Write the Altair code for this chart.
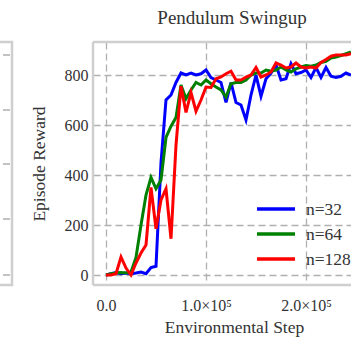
import altair as alt
import pandas as pd

steps = [i * 5000 for i in range(50)]
n32 = [0, 5, 10, 5, 8, 5, 8, 12, 5, 30,
       35, 450, 700, 720, 770, 808, 800, 808, 800, 805,
       820, 790, 780, 770, 690, 770, 690, 680, 620, 720,
       800, 715, 785, 808, 840, 780, 785, 845, 805, 810,
       820, 790, 830, 790, 830, 795, 790, 795, 808, 800]
n64 = [0, 5, 8, 10, 8, 12, 70, 200, 320, 390,
       345, 380, 550, 595, 630, 760, 705, 740, 770, 760,
       780, 765, 752, 740, 712, 765, 770, 770, 780, 800,
       808, 808, 820, 815, 820, 832, 820, 812, 825, 832,
       838, 835, 840, 850, 855, 868, 872, 878, 885, 892]
n128 = [0, 0, 5, 72, 28, 0, 48, 88, 120, 350,
        185, 300, 345, 145, 520, 755, 650, 730, 655, 700,
        752, 750, 785, 792, 805, 815, 780, 780, 792, 800,
        830, 792, 800, 812, 848, 840, 828, 832, 848, 832,
        828, 832, 828, 850, 862, 875, 880, 880, 880, 885]
series = ["n=32", "n=64", "n=128"]
colors = ["#0000ff", "#008000", "#ff0000"]
x_ticks = [0, 100000, 200000]
y_ticks = [0, 200, 400, 600, 800]

rows = []
for name, vals in zip(series, [n32, n64, n128]):
    for s, v in zip(steps, vals):
        rows.append({"step": s, "reward": v, "series": name})
df = pd.DataFrame(rows)

W, H = 258, 243
FONT = "Liberation Serif, Times New Roman, serif"
TXT = "#333333"
FRAME = "#cfcfcf"
color_scale = alt.Scale(domain=series, range=colors)

lines = alt.Chart(df).mark_line(strokeWidth=3, clip=True).encode(
    x=alt.X("step:Q",
            scale=alt.Scale(domain=[-13000, 245000], nice=False, zero=False),
            axis=alt.Axis(values=x_ticks,
                          labelExpr="datum.value == 0 ? '0.0' : format(datum.value / 100000, '.1f') + '×10⁵'",
                          title="Environmental Step", labelPadding=12,
                          titleX=141, titlePadding=5)),
    y=alt.Y("reward:Q",
            scale=alt.Scale(domain=[-40, 932], nice=False, zero=False),
            axis=alt.Axis(values=y_ticks, title="Episode Reward",
                          labelPadding=5, titlePadding=16)),
    color=alt.Color("series:N", sort=series, scale=color_scale, legend=None),
    detail="series:N",
)

# legend (built from the series list)
leg_df = pd.DataFrame({"series": series, "row": list(range(len(series)))})
leg_base = alt.Chart(leg_df).transform_calculate(py="167 + 25 * datum.row")
leg_lines = leg_base.mark_rule(strokeWidth=3.5).encode(
    x=alt.value(164), x2=alt.value(202),
    y=alt.Y("py:Q", scale=None),
    color=alt.Color("series:N", sort=series, scale=color_scale, legend=None),
)
leg_text = leg_base.mark_text(align="left", baseline="middle", font=FONT,
                              fontSize=17.5, color=TXT, dy=1).encode(
    x=alt.value(213), y=alt.Y("py:Q", scale=None), text="series:N")

one = pd.DataFrame({"a": [0]})
frame = alt.Chart(one).mark_rule(color=FRAME, strokeWidth=2.5)
f_left = frame.encode(x=alt.value(0), y=alt.value(0), y2=alt.value(H))
f_top = frame.encode(x=alt.value(0), x2=alt.value(W + 5), y=alt.value(0))
f_bot = frame.encode(x=alt.value(0), x2=alt.value(W + 5), y=alt.value(H))

# neighbouring panel fragment on the left
left_rect = alt.Chart(one).mark_rect(fillOpacity=0, stroke=FRAME, strokeWidth=2.5).encode(
    x=alt.value(-200), x2=alt.value(-81), y=alt.value(0), y2=alt.value(H))
left_grid = alt.Chart(pd.DataFrame({"gy": [13, 68, 122, 177, 233]})).mark_rule(
    color="#b0b0b0", strokeWidth=1.3, strokeDash=[7, 4]).encode(
    x=alt.value(-200), x2=alt.value(-83), y=alt.Y("gy:Q", scale=None))

chart = alt.layer(left_grid, left_rect, lines, leg_lines, leg_text,
                  f_left, f_top, f_bot).properties(
    width=W, height=H,
    padding={"left": 93, "top": 42, "right": 0, "bottom": 57},
    autosize=alt.AutoSizeParams(type="none"),
    title=alt.TitleParams("Pendulum Swingup", font=FONT, fontSize=19,
                          fontWeight="normal", color=TXT, dx=10, dy=19,
                          baseline="alphabetic", offset=17),
    background="white",
).configure_view(stroke=None).configure_axis(
    grid=True, gridColor="#b0b0b0", gridDash=[7, 4], gridWidth=1.3,
    domain=False, ticks=False, tickSize=0,
    labelFont=FONT, labelFontSize=16, labelColor=TXT,
    titleFont=FONT, titleFontSize=17.5, titleFontWeight="normal", titleColor=TXT,
)

chart.save("out.html", embed_options={"renderer": "svg", "actions": False})
